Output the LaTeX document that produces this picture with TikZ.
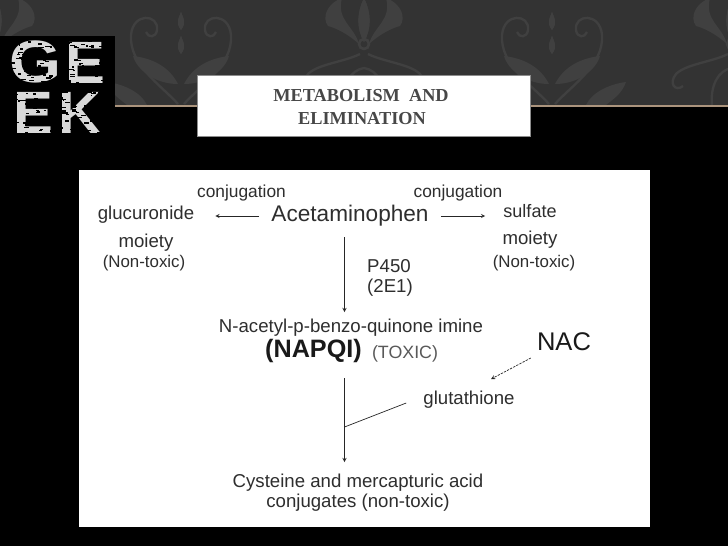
\documentclass[tikz,border=0pt]{standalone}
\usepackage{fontspec}
\setmainfont{Liberation Sans}
\newfontfamily\titlefont{Liberation Serif}
\tikzset{
  lbl/.style={inner sep=0pt,text=black!82,font=\fontsize{15.9}{18}\selectfont},
  flow/.style={->,>=stealth,draw=black!85,line width=.6pt},
  logoletter/.style={inner sep=0pt,text=black!15,font=\fontsize{51}{51}\selectfont\bfseries},
  leafshape/.style={fill=black!75,draw=none},
  vine/.style={draw=black!75,line width=2pt},
  halfa/.pic={
    \draw[vine] (3,104) .. controls (20,85) and (52,65) .. (50,35) .. controls (48,12) and (22,14) .. (24,30) .. controls (25,38) and (33,38) .. (35,32);
    \fill[leafshape] (3,84) .. controls (12,66) and (30,58) .. (48,56) .. controls (44,70) and (26,84) .. (3,84);
    \fill[leafshape] (34,105) .. controls (40,92) and (58,84) .. (74,82) .. controls (70,94) and (60,100) .. (54,105);
    \fill[leafshape] (0,12) .. controls (2,18) and (6,22) .. (0,30) .. controls (-6,22) and (-2,18) .. (0,12);
    \fill[leafshape] (0,36) .. controls (2,42) and (6,46) .. (0,54) .. controls (-6,46) and (-2,42) .. (0,36);
  },
  halfb/.pic={
    \fill[leafshape] (0,-2) .. controls (7,12) and (8,28) .. (0,42) .. controls (-8,28) and (-7,12) .. (0,-2);
    \fill[leafshape] (5,44) .. controls (10,26) and (28,20) .. (22,-2) .. controls (38,4) and (42,18) .. (36,26) .. controls (28,28) and (16,34) .. (5,44);
    \draw[vine] (0,44) circle (5) (4,54) .. controls (20,62) and (46,64) .. (56,74) .. controls (64,84) and (56,92) .. (49,86);
    \draw[vine] (0,68) .. controls (14,70) and (22,86) .. (20,106);
  }
}
\begin{document}
\begin{tikzpicture}[x=.03cm,y=-.03cm]
  \useasboundingbox (0,0) rectangle (728,546);
  \fill[black] (0,0) rectangle (728,546);
  % top band
  \fill[black!80] (0,0) rectangle (728,105);
  \begin{scope}
    \clip (0,0) rectangle (728,105);
    \foreach \cx in {181,552} {
      \pic at (\cx,0) {halfa};
      \pic[xscale=-1] at (\cx,0) {halfa};
    }
    \foreach \cx in {-4,364,732} {
      \pic at (\cx,0) {halfb};
      \pic[xscale=-1] at (\cx,0) {halfb};
    }
  \end{scope}
  \fill[black!40!brown!60] (115,105) rectangle (728,106.5);
  % logo
  \fill[black] (0,36) rectangle (115,136);
  \node[logoletter,xscale=1.12] (logog) at (35.5,62) {G};
  \node[logoletter] (logoe) at (85,62.5) {E};
  \node[logoletter] (logof) at (33,113) {E};
  \node[logoletter] (logok) at (80,112.5) {K};
  \pgfmathsetseed{17}
  \foreach \i in {0,...,260} {
    \pgfmathsetmacro{\px}{8+rnd*98}
    \pgfmathsetmacro{\py}{40+rnd*96}
    \pgfmathsetmacro{\pw}{1.5+rnd*4}
    \fill[black] (\px,\py) rectangle ++(\pw,1.3);
  }
  % title box
  \node[fill=white,draw=black!45,line width=.6pt,minimum width=333*.03cm,minimum height=61*.03cm,inner sep=0pt] (titlebox) at (363.5,105.5) {};
  \node[inner sep=0pt,text=black!72,font=\titlefont\fontsize{15.6}{18}\selectfont\bfseries] (titlea) at (361,96) {METABOLISM\ \ AND};
  \node[inner sep=0pt,text=black!72,font=\titlefont\fontsize{15.6}{18}\selectfont\bfseries] (titleb) at (362,119) {ELIMINATION};
  % figure
  \fill[white] (79,170) rectangle (650,527);
  \node[lbl,font=\fontsize{19.3}{22}\selectfont] (acet) at (350,216) {Acetaminophen};
  \node[lbl,font=\fontsize{14.8}{18}\selectfont] (conjl) at (241.5,193) {conjugation};
  \node[lbl,font=\fontsize{14.8}{18}\selectfont] (conjr) at (458,193) {conjugation};
  \node[lbl] (gluc) at (146,215) {glucuronide};
  \node[lbl] (moil) at (146,243) {moiety};
  \node[lbl,font=\fontsize{14.4}{18}\selectfont] (nontl) at (144,263) {(Non-toxic)};
  \node[lbl,font=\fontsize{15.4}{18}\selectfont] (sulf) at (530,211) {sulfate};
  \node[lbl] (moir) at (530,240) {moiety};
  \node[lbl,font=\fontsize{14.4}{18}\selectfont] (nontr) at (534,263) {(Non-toxic)};
  \node[lbl,anchor=west] (pfour) at (367,266) {P450};
  \node[lbl,anchor=west] (twoe) at (367,288) {(2E1)};
  \node[lbl] (nacetyl) at (351,328) {N-acetyl-p-benzo-quinone imine};
  \node[lbl,text=black!90,font=\fontsize{21.5}{24}\selectfont\bfseries] (napqi) at (313.5,351) {(NAPQI)};
  \node[lbl,text=black!65,font=\fontsize{15.2}{18}\selectfont] (toxic) at (405,354) {(TOXIC)};
  \node[lbl,text=black!90,font=\fontsize{21.8}{24}\selectfont] (nac) at (564,342) {NAC};
  \node[lbl] (glut) at (469,400) {glutathione};
  \node[lbl] (cyst) at (358,483) {Cysteine and mercapturic acid};
  \node[lbl] (conjg) at (358,503) {conjugates (non-toxic)};
  \coordinate (stema) at (344.5,237);
  \coordinate (stemb) at (344.5,312);
  \coordinate (stemc) at (344.5,378);
  \coordinate (stemd) at (344.5,462);
  \coordinate (join) at (344.5,427);
  \draw[flow] ([shift={(-12,0)}]acet.west) -- ([shift={(21,1)}]gluc.east);
  \draw[flow] ([shift={(12,0)}]acet.east) -- ([shift={(-18,5)}]sulf.west);
  \draw[flow] (stema) -- (stemb);
  \draw[flow] (stemc) -- (stemd);
  \draw[flow,dashed,dash pattern=on 2pt off 1pt] ([shift={(-6,16)}]nac.west) -- ([shift={(22,-12)}]glut.north);
  \draw[draw=black!85,line width=.6pt] ([shift={(-17,3)}]glut.west) -- (join);
\end{tikzpicture}
\end{document}
